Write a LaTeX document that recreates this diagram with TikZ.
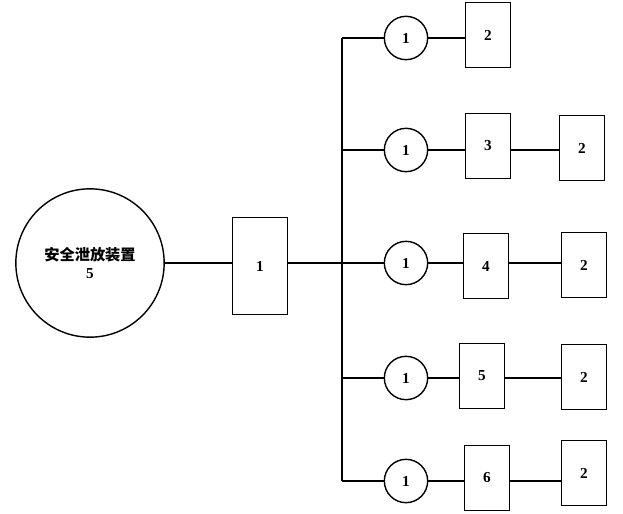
\documentclass[tikz,border=0pt]{standalone}
\usepackage{fontspec}
\setmainfont{Liberation Serif}
\newfontfamily\cjk{Noto Sans CJK SC}
\usetikzlibrary{positioning, calc}

\begin{document}
\begin{tikzpicture}[
  x=0.03cm, y=-0.03cm,
  font=\bfseries\fontsize{13}{15}\selectfont,
  line width=1.2pt,
  tank/.style={draw, circle, minimum size=4.45cm, align=center, inner sep=0pt},
  valve/.style={draw, circle, minimum size=1.3cm, inner sep=0pt},
  unit/.style={draw, rectangle, minimum width=1.35cm, minimum height=1.95cm, inner sep=0pt},
  head/.style={draw, rectangle, minimum width=1.65cm, minimum height=2.9cm, inner sep=0pt},
  pipe/.style={line width=1.2pt}
]
\useasboundingbox (0,0) rectangle (623,514);

% source and header
\node[tank] (safety) at (90,263) {{\cjk\bfseries 安全泄放装置}\\[1pt]5};
\node[head] (hdr) at (260,266) {1};

% branch points on the trunk
\coordinate (j1) at (342,38);
\coordinate (j2) at (342,150);
\coordinate (j3) at (342,263);
\coordinate (j4) at (342,378);
\coordinate (j5) at (342,481);

% valves
\node[valve] (v1) at (406,38) {1};
\node[valve] (v2) at (406,150) {1};
\node[valve] (v3) at (406,263) {1};
\node[valve] (v4) at (406,378) {1};
\node[valve] (v5) at (406,481) {1};

% intermediate units
\node[unit] (u1) at (488,35) {2};
\node[unit] (u2) at (488,146) {3};
\node[unit] (u3) at (486,266) {4};
\node[unit] (u4) at (482,376) {5};
\node[unit] (u5) at (487,478) {6};

% end units
\node[unit] (e2) at (582,148) {2};
\node[unit] (e3) at (584,265) {2};
\node[unit] (e4) at (584,377) {2};
\node[unit] (e5) at (584,473) {2};

% piping
\draw[pipe] (safety) -- (safety -| hdr.west);
\draw[pipe] (hdr.east |- j3) -- (v3);
\draw[pipe] (j1) -- (j5);
\draw[pipe] (j1) -- (v1);
\draw[pipe] (j2) -- (v2);
\draw[pipe] (j4) -- (v4);
\draw[pipe] (j5) -- (v5);

\draw[pipe] (v1) -- (v1 -| u1.west);
\draw[pipe] (v2) -- (v2 -| u2.west);
\draw[pipe] (v3) -- (v3 -| u3.west);
\draw[pipe] (v4) -- (v4 -| u4.west);
\draw[pipe] (v5) -- (v5 -| u5.west);

\draw[pipe] (v2 -| u2.east) -- (v2 -| e2.west);
\draw[pipe] (v3 -| u3.east) -- (v3 -| e3.west);
\draw[pipe] (v4 -| u4.east) -- (v4 -| e4.west);
\draw[pipe] (v5 -| u5.east) -- (v5 -| e5.west);
\end{tikzpicture}
\end{document}
